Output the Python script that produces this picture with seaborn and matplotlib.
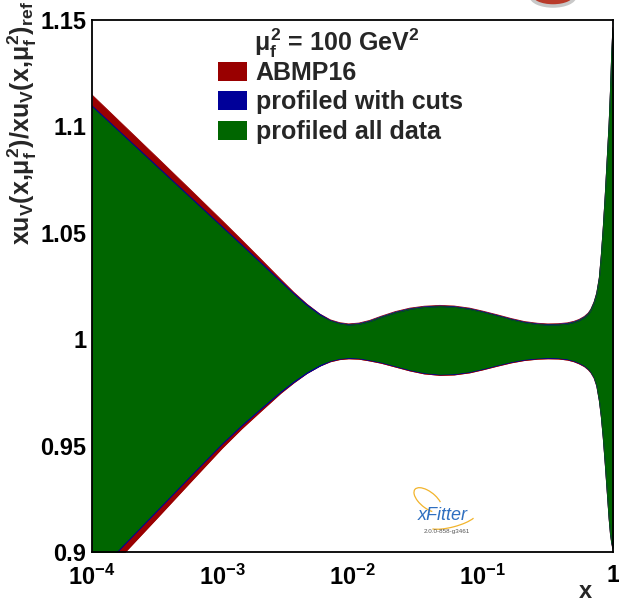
import numpy as np
import pandas as pd
import matplotlib
matplotlib.use("Agg")
import matplotlib.pyplot as plt
import seaborn as sns
from matplotlib.patches import Patch, Ellipse, Arc
from matplotlib.ticker import FixedLocator, FuncFormatter, NullFormatter

# ---------------------------------------------------------------- data
log10_x = [-4.0, -3.75, -3.5, -3.25, -3.0, -2.85, -2.7, -2.55, -2.45, -2.35,
           -2.25, -2.17, -2.1, -2.03, -1.95, -1.87, -1.78, -1.67, -1.56, -1.45,
           -1.33, -1.22, -1.1, -1.0, -0.89, -0.78, -0.68, -0.58, -0.5, -0.42,
           -0.35, -0.3, -0.26, -0.22, -0.19, -0.17, -0.145, -0.125, -0.105, -0.09,
           -0.075, -0.06, -0.045, -0.03, -0.02, -0.01, -0.004, 0.0]

abmp16_hi = [1.1148, 1.1001, 1.0854, 1.0706, 1.0557, 1.0466, 1.0374, 1.0281, 1.0220, 1.0165,
             1.0118, 1.0091, 1.0078, 1.0072, 1.0076, 1.0088, 1.0108, 1.0130, 1.0146, 1.0155,
             1.0159, 1.0156, 1.0146, 1.0132, 1.0115, 1.0097, 1.0083, 1.0075, 1.0072, 1.0073,
             1.0077, 1.0084, 1.0093, 1.0107, 1.0123, 1.0141, 1.0176, 1.0218, 1.0291, 1.0396,
             1.0526, 1.0676, 1.0846, 1.1016, 1.1166, 1.1346, 1.1426, 1.1466]
abmp16_lo = [0.8833, 0.8996, 0.9159, 0.9324, 0.9488, 0.9579, 0.9663, 0.9746, 0.9795, 0.9839,
             0.9874, 0.9894, 0.9904, 0.9908, 0.9906, 0.9898, 0.9887, 0.9869, 0.9851, 0.9837,
             0.9830, 0.9832, 0.9842, 0.9856, 0.9873, 0.9889, 0.9900, 0.9906, 0.9908, 0.9907,
             0.9902, 0.9894, 0.9884, 0.9871, 0.9856, 0.9842, 0.9816, 0.9779, 0.9709, 0.9634,
             0.9534, 0.9414, 0.9284, 0.9154, 0.9084, 0.9039, 0.9022, 0.9013]

cuts_hi = [1.1097, 1.0955, 1.0813, 1.0671, 1.0529, 1.0444, 1.0358, 1.0272, 1.0215, 1.0162,
           1.0117, 1.0088, 1.0075, 1.0069, 1.0073, 1.0085, 1.0105, 1.0127, 1.0143, 1.0152,
           1.0156, 1.0153, 1.0143, 1.0129, 1.0112, 1.0094, 1.0080, 1.0072, 1.0069, 1.0070,
           1.0074, 1.0081, 1.0090, 1.0104, 1.0120, 1.0138, 1.0173, 1.0215, 1.0288, 1.0393,
           1.0523, 1.0673, 1.0843, 1.1013, 1.1163, 1.1343, 1.1423, 1.1463]
cuts_lo = [0.8876, 0.9035, 0.9193, 0.9351, 0.9507, 0.9593, 0.9673, 0.9751, 0.9798, 0.9840,
           0.9874, 0.9897, 0.9907, 0.9911, 0.9909, 0.9901, 0.9890, 0.9872, 0.9854, 0.9840,
           0.9833, 0.9835, 0.9845, 0.9859, 0.9876, 0.9892, 0.9903, 0.9909, 0.9911, 0.9910,
           0.9905, 0.9897, 0.9887, 0.9874, 0.9859, 0.9845, 0.9819, 0.9782, 0.9712, 0.9637,
           0.9537, 0.9417, 0.9287, 0.9157, 0.9087, 0.9042, 0.9025, 0.9016]

alldata_hi = [1.1090, 1.0948, 1.0806, 1.0664, 1.0522, 1.0437, 1.0351, 1.0265, 1.0208, 1.0155,
              1.0110, 1.0085, 1.0072, 1.0066, 1.0070, 1.0082, 1.0102, 1.0124, 1.0140, 1.0149,
              1.0153, 1.0150, 1.0140, 1.0126, 1.0109, 1.0091, 1.0077, 1.0069, 1.0066, 1.0067,
              1.0071, 1.0078, 1.0087, 1.0101, 1.0117, 1.0135, 1.0170, 1.0212, 1.0285, 1.0390,
              1.0520, 1.0670, 1.0840, 1.1010, 1.1160, 1.1340, 1.1420, 1.1460]
alldata_lo = [0.8883, 0.9042, 0.9200, 0.9358, 0.9514, 0.9600, 0.9680, 0.9758, 0.9805, 0.9847,
              0.9881, 0.9900, 0.9910, 0.9914, 0.9912, 0.9904, 0.9893, 0.9875, 0.9857, 0.9843,
              0.9836, 0.9838, 0.9848, 0.9862, 0.9879, 0.9895, 0.9906, 0.9912, 0.9914, 0.9913,
              0.9908, 0.9900, 0.9890, 0.9877, 0.9862, 0.9848, 0.9822, 0.9785, 0.9715, 0.9640,
              0.9540, 0.9420, 0.9290, 0.9160, 0.9090, 0.9045, 0.9028, 0.9019]

series_names = ["ABMP16", "profiled with cuts", "profiled all data"]
series_colors = ["#990000", "#000099", "#006600"]

y_ticks = [0.9, 0.95, 1.0, 1.05, 1.1, 1.15]
x_ticks = [1e-4, 1e-3, 1e-2, 1e-1, 1.0]

x = 10.0 ** np.array(log10_x)
bands = pd.concat([
    pd.DataFrame({"x": x, "lo": lo, "hi": hi, "pdf": name})
    for name, lo, hi in zip(series_names,
                            [abmp16_lo, cuts_lo, alldata_lo],
                            [abmp16_hi, cuts_hi, alldata_hi])
], ignore_index=True)

# ---------------------------------------------------------------- style
sns.set_theme(style="white")
plt.rcParams.update({
    "font.family": ["Liberation Sans", "DejaVu Sans"],
    "font.weight": "bold",
    "mathtext.fontset": "custom",
    "mathtext.rm": "Liberation Sans:bold",
    "mathtext.it": "Liberation Sans:bold",
    "mathtext.bf": "Liberation Sans:bold",
    "mathtext.sf": "Liberation Sans:bold",
    "axes.linewidth": 1.3,
    "axes.edgecolor": "black",
})

W, H = 619, 605
fig = plt.figure(figsize=(W / 100, H / 100), dpi=100)
fig.patch.set_facecolor("white")
ax = fig.add_axes([92 / W, 53 / H, 521 / W, 532 / H])
ax.set_facecolor("white")

for name, color in zip(series_names, series_colors):
    d = bands[bands["pdf"] == name]
    ax.fill_between(d["x"], d["lo"], d["hi"], color=color, lw=0, zorder=2)
    sns.lineplot(data=d, x="x", y="hi", color=color, lw=0.6, ax=ax,
                 legend=False, zorder=2)
    sns.lineplot(data=d, x="x", y="lo", color=color, lw=0.6, ax=ax,
                 legend=False, zorder=2)

ax.set_xscale("log")
ax.set_xlim(1e-4, 1.0)
ax.set_ylim(0.9, 1.15)
ax.set_xlabel("")
ax.set_ylabel("")

# axis ticks, drawn inward on the left and bottom edges only
ax.yaxis.set_major_locator(FixedLocator(y_ticks))
ax.yaxis.set_minor_locator(FixedLocator(np.arange(0.9, 1.1501, 0.01)))
ax.yaxis.set_major_formatter(FuncFormatter(lambda v, p: f"{v:g}"))
ax.xaxis.set_major_locator(FixedLocator(x_ticks))
minor_x = [m * 10.0 ** e for e in range(-4, 0) for m in range(2, 10)]
ax.xaxis.set_minor_locator(FixedLocator(minor_x))
ax.xaxis.set_minor_formatter(NullFormatter())


def decade_label(v, pos):
    e = int(round(np.log10(v)))
    return "1" if e == 0 else r"$10^{%d}$" % e


ax.xaxis.set_major_formatter(FuncFormatter(decade_label))
ax.tick_params(axis="both", which="both", direction="in", top=False, right=False,
               colors="black", labelsize=17, width=1.2)
ax.tick_params(axis="y", which="major", length=12, pad=4)
ax.tick_params(axis="y", which="minor", length=6.5)
ax.tick_params(axis="x", which="major", length=9, pad=9)
ax.tick_params(axis="x", which="minor", length=4.5)
for lab in ax.get_xticklabels() + ax.get_yticklabels():
    lab.set_fontweight("bold")
for s in ax.spines.values():
    s.set_visible(True)
    s.set_color("black")
    s.set_zorder(5)

# axis titles
fig.text(22 / W, 1 - 1 / H,
         r"xu$_{V}$(x,$\mu_{f}^{2}$)/xu$_{V}$(x,$\mu_{f}^{2}$)$_{ref}$",
         rotation=90, ha="center", va="top", fontsize=18, fontweight="bold")
fig.text(585 / W, 1 - 592 / H, "x", ha="center", va="center",
         fontsize=17, fontweight="bold")

# legend
fig.text(337 / W, 1 - 43 / H, r"$\mu_{f}^{2}$ = 100 GeV$^{2}$",
         ha="center", va="center", fontsize=18, fontweight="bold")
handles = [Patch(facecolor=c, edgecolor="none") for c in series_colors]
leg = fig.legend(handles, series_names, loc="upper left",
                 bbox_to_anchor=(218 / W, 1 - 61 / H), bbox_transform=fig.transFigure,
                 frameon=False, borderpad=0, fontsize=18, handlelength=1.15,
                 handleheight=0.8, handletextpad=0.35, labelspacing=0.22,
                 borderaxespad=0)
for t in leg.get_texts():
    t.set_fontweight("bold")

# xFitter badge
fig.add_artist(Arc((428 / W, 1 - 500 / H), 34 / W, 16 / H, angle=-40,
                   theta1=30, theta2=330, color="#f2b42c", lw=0.9,
                   transform=fig.transFigure))
fig.add_artist(Arc((452 / W, 1 - 520 / H), 50 / W, 14 / H, angle=15,
                   theta1=190, theta2=350, color="#f2b42c", lw=0.9,
                   transform=fig.transFigure))
fig.text(443 / W, 1 - 515 / H, "xFitter", ha="center", va="center",
         fontsize=13, style="italic", fontweight="normal", color="#2f6fc0")
fig.text(447 / W, 1 - 531 / H, "2.0.0-858-g3461", ha="center", va="center",
         fontsize=4.5, fontweight="normal", color="#555555")

# partial emblem at the top edge
fig.add_artist(Ellipse((553 / W, 1 + 4 / H), 44 / W, 20 / H, facecolor="#b83a2a",
                       edgecolor="#c8c8c8", lw=2.5, transform=fig.transFigure,
                       clip_on=False))

fig.savefig("out.png", dpi=100)
